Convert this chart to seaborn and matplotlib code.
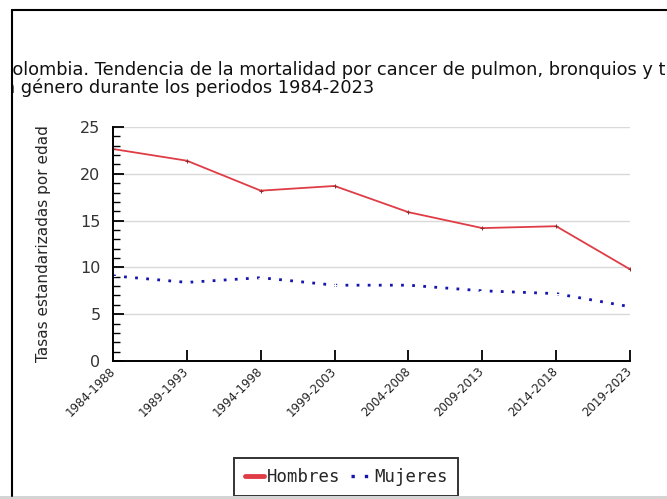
import seaborn as sns
import matplotlib.pyplot as plt
import pandas as pd
from matplotlib.lines import Line2D
from matplotlib.patches import Rectangle
from matplotlib.ticker import MultipleLocator

periodos = ['1984-1988', '1989-1993', '1994-1998', '1999-2003',
            '2004-2008', '2009-2013', '2014-2018', '2019-2023']
hombres = [22.65, 21.4, 18.2, 18.7, 15.9, 14.2, 14.4, 9.8]
mujeres = [9.1, 8.4, 8.9, 8.1, 8.1, 7.5, 7.2, 5.8]

titulo_1 = ('Colombia. Tendencia de la mortalidad por cancer de pulmon, '
            'bronquios y traquea')
titulo_2 = 'según género durante los periodos 1984-2023'

sns.set_style("white")
plt.rcParams['font.family'] = ['DejaVu Sans']

W, H = 667, 499
fig = plt.figure(figsize=(W / 100, H / 100), dpi=100)

# background frame area (used to clip the overflowing title)
bg = fig.add_axes([12 / W, 3 / H, 655 / W, 486 / H])
bg.axis('off')
bg.text(0 / W, (H - 75) / H, titulo_1, transform=fig.transFigure,
        fontsize=12.8, ha='left', va='baseline', clip_on=True, color='#111111')
bg.text(374 / W, (H - 93) / H, titulo_2, transform=fig.transFigure,
        fontsize=12.8, ha='right', va='baseline', clip_on=True, color='#111111')

ax = fig.add_axes([113 / W, 138 / H, 517 / W, 234 / H])

df = pd.DataFrame({'periodo': periodos, 'Hombres': hombres, 'Mujeres': mujeres})
sns.lineplot(data=df, x='periodo', y='Hombres', ax=ax, color='#e03c46',
             lw=1.3, marker='+', markersize=3, markeredgecolor='#903030',
             label='Hombres', sort=False)
sns.lineplot(data=df, x='periodo', y='Mujeres', ax=ax, color='#1515b0',
             lw=2, linestyle=(0, (1, 3)), marker='+', markersize=4,
             label='Mujeres', sort=False)

ax.set_xlim(0, len(periodos) - 1)
ax.set_ylim(0, 25)
ax.yaxis.set_major_locator(MultipleLocator(5))
ax.yaxis.set_minor_locator(MultipleLocator(1))
ax.grid(axis='y', color='#d9d9d9', lw=1)
ax.set_axisbelow(True)

for s in ['top', 'right']:
    ax.spines[s].set_visible(False)
for s in ['left', 'bottom']:
    ax.spines[s].set_color('black')
    ax.spines[s].set_linewidth(1.4)

ax.tick_params(axis='x', direction='in', length=8, width=1.3, color='black',
               bottom=True, pad=6)
ax.tick_params(axis='y', which='major', direction='in', length=8, width=1.3,
               color='black', left=True, pad=9, labelsize=11.5,
               labelcolor='#333333')
ax.tick_params(axis='y', which='minor', direction='in', length=5, width=1,
               color='black', left=True)
ax.set_xticks(range(len(periodos)))
ax.set_xticklabels(periodos, rotation=45, ha='right', va='center',
                   rotation_mode='anchor', fontsize=8.5, color='#222222')

ax.set_xlabel('')
ax.set_ylabel('Tasas estandarizadas por edad', fontsize=11)
ax.yaxis.set_label_coords(-0.12, 0.5)

leg = ax.legend(loc='center', bbox_to_anchor=(346 / W, 22 / H),
                bbox_transform=fig.transFigure, ncol=2, frameon=True,
                fancybox=False, edgecolor='black', handlelength=1.1,
                columnspacing=0.6, handletextpad=0.2, borderpad=0.6,
                prop={'family': 'DejaVu Sans Mono', 'size': 12.5})
leg.get_frame().set_linewidth(1.4)
h = leg.legend_handles
h[0].set_linewidth(3.5)
h[0].set_marker('')
h[1].set_marker('')
h[1].set_linewidth(2.4)

# page frame
fig.add_artist(Line2D([12 / W, 12 / W], [3 / H, 489 / H],
                      transform=fig.transFigure, color='black', lw=1.5))
fig.add_artist(Line2D([12 / W, 1], [489 / H, 489 / H],
                      transform=fig.transFigure, color='black', lw=1.5))
fig.add_artist(Rectangle((0, 0), 1, 3 / H, transform=fig.transFigure,
                         color='#d4d4d4', lw=0))

fig.savefig('out.png', dpi=100)
